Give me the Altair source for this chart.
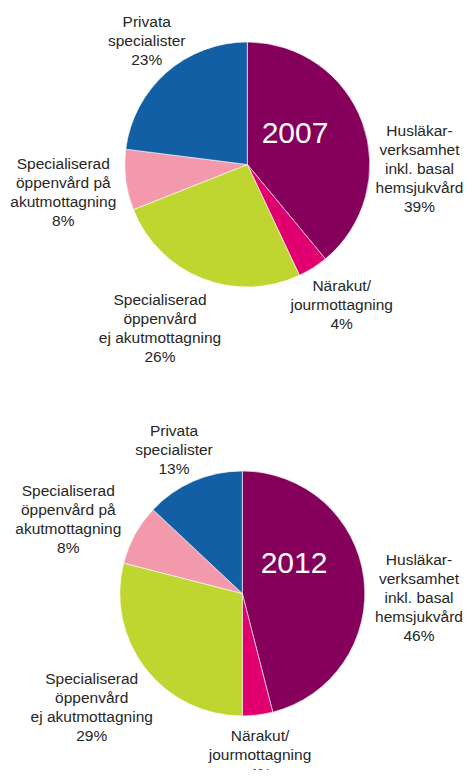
import altair as alt
import pandas as pd

# --- data ---
categories = [
    "Husläkarverksamhet inkl. basal hemsjukvård",
    "Närakut/jourmottagning",
    "Specialiserad öppenvård ej akutmottagning",
    "Specialiserad öppenvård på akutmottagning",
    "Privata specialister",
]
label_2007 = [
    "Husläkar-\nverksamhet\ninkl. basal\nhemsjukvård",
    "Närakut/\njourmottagning",
    "Specialiserad\nöppenvård\nej akutmottagning",
    "Specialiserad\nöppenvård på\nakutmottagning",
    "Privata\nspecialister",
]
label_2012 = [
    "Husläkar-\nverksamhet\ninkl. basal\nhemsjukvård",
    "Närakut/\njourmottagning",
    "Specialiserad\nöppenvård\nej akutmottagning",
    "Specialiserad\nöppenvård på\nakutmottagning",
    "Privata\nspecialister",
]
values_2007 = [39, 4, 26, 8, 23]
values_2012 = [46, 4, 29, 8, 13]
years = ["2007", "2012"]

colors = ["#85005a", "#e0006f", "#bfd630", "#f29aab", "#125fa5"]

# --- layout (canvas px) ---
W, H = 456, 762
R = 122.5
centers = {"2007": (239.3, 156.5), "2012": (234.3, 585.5)}
year_pos = {"2007": (287, 134.7), "2012": (286, 564.7)}
label_x = {"2007": [411.5, 333.7, 152, 55.3, 138.7], "2012": [411, 252, 83.7, 60.3, 166]}
label_y = {"2007": [128, 282.5, 297, 161, 19.3], "2012": [557, 732.7, 676, 488, 428]}

xs = alt.Scale(domain=[0, W], range=[0, W], nice=False, zero=False)
ys = alt.Scale(domain=[0, H], range=[0, H], nice=False, zero=False)

layers = []
for yr, vals, labs in [("2007", values_2007, label_2007), ("2012", values_2012, label_2012)]:
    df = pd.DataFrame({
        "cat": categories,
        "value": vals,
        "idx": list(range(len(vals))),
        "label": [f"{l}\n{v}%" for l, v in zip(labs, vals)],
        "lx": label_x[yr],
        "ly": label_y[yr],
    })
    cx, cy = centers[yr]
    arc = alt.Chart(df).mark_arc(radius=R, stroke="white", strokeWidth=0.6).encode(
        theta=alt.Theta("value:Q", stack=True),
        order=alt.Order("idx:Q"),
        color=alt.Color("cat:N", scale=alt.Scale(domain=categories, range=colors), legend=None),
        x=alt.value(cx),
        y=alt.value(cy),
    )
    txt = alt.Chart(df).mark_text(
        lineBreak="\n", lineHeight=19, fontSize=15.5, font="Liberation Sans",
        color="#262626", align="center", baseline="alphabetic",
    ).encode(
        x=alt.X("lx:Q", scale=xs, axis=None),
        y=alt.Y("ly:Q", scale=ys, axis=None),
        text="label:N",
    )
    ydf = pd.DataFrame({"year": [yr], "yx": [year_pos[yr][0]], "yy": [year_pos[yr][1]]})
    ytxt = alt.Chart(ydf).mark_text(
        fontSize=30, font="Liberation Sans", color="white", align="center", baseline="alphabetic"
    ).encode(
        x=alt.X("yx:Q", scale=xs, axis=None),
        y=alt.Y("yy:Q", scale=ys, axis=None),
        text="year:N",
    )
    layers += [arc, txt, ytxt]

chart = alt.layer(*layers).properties(
    width=W, height=H, padding=0, autosize="none"
).configure_view(stroke=None)

chart.save("out.html", embed_options={"renderer": "svg", "actions": False})
